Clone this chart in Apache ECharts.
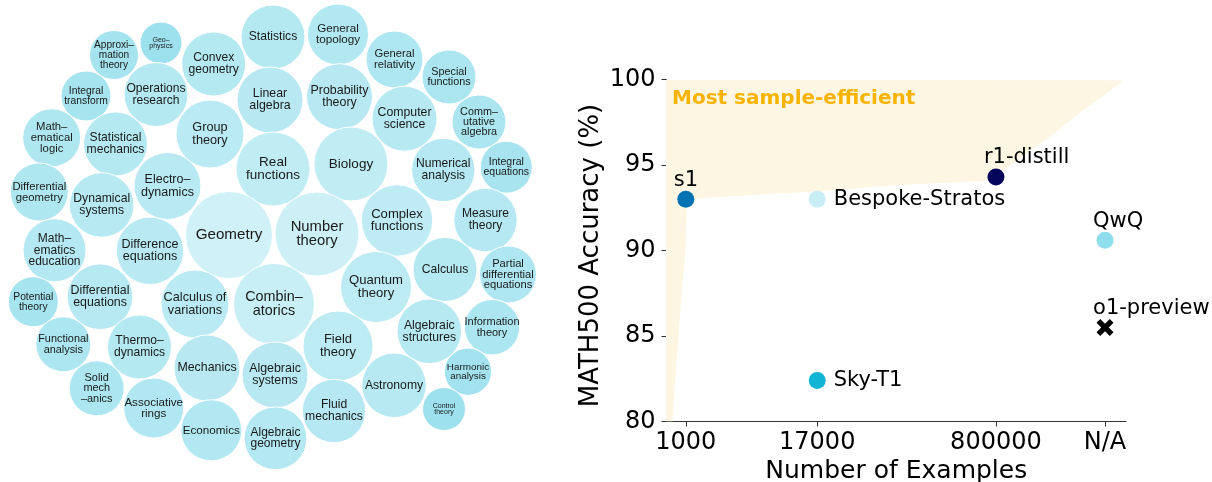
<!DOCTYPE html>
<html><head><meta charset="utf-8">
<script src="https://cdn.jsdelivr.net/npm/echarts@6/dist/echarts.min.js"></script>
<style>html,body{margin:0;padding:0;background:#fff}#c{width:1212px;height:482px}</style>
</head><body><div id="c"></div>
<script>
// ---------- Left: topic bubbles (data units = layout space) ----------
const topicNames = [
 'Approxi–\nmation\ntheory','Geo–\nphysics','Convex\ngeometry','Statistics','General\ntopology',
 'General\nrelativity','Special\nfunctions','Integral\ntransform','Operations\nresearch','Linear\nalgebra',
 'Probability\ntheory','Computer\nscience','Comm–\nutative\nalgebra','Math–\nematical\nlogic','Statistical\nmechanics',
 'Group\ntheory','Real\nfunctions','Biology','Numerical\nanalysis','Integral\nequations',
 'Differential\ngeometry','Dynamical\nsystems','Electro–\ndynamics','Geometry','Number\ntheory',
 'Complex\nfunctions','Measure\ntheory','Math–\nematics\neducation','Difference\nequations','Calculus',
 'Partial\ndifferential\nequations','Quantum\ntheory','Potential\ntheory','Differential\nequations','Calculus of\nvariations',
 'Combin–\natorics','Information\ntheory','Algebraic\nstructures','Functional\nanalysis','Thermo–\ndynamics',
 'Field\ntheory','Mechanics','Algebraic\nsystems','Harmonic\nanalysis','Solid\nmech\n–anics',
 'Associative\nrings','Astronomy','Fluid\nmechanics','Control\ntheory','Economics',
 'Algebraic\ngeometry'
];
const topicX = [114,161,213.7,273,338, 394.5,449,86,156,270, 339.5,404.5,479,51.7,115.5,
 210,273,351,443.3,506.3, 39.3,101.7,167.5,229,317, 397,485.5,54.5,150,445,
 508,376,33.3,100,195, 274,492,429.3,63.3,139.5, 338,207,275,468,96.7,
 153.7,394,334,444,211.3, 275.5];
const topicY = [55,43,64,37,34.5, 59.5,77,96,94.5,100, 96.7,118.7,122,137.8,144,
 134,169,164,170,167.2, 192,205,186,235,234, 220.5,220,250.3,250.8,269.5,
 274.5,287,301.7,296.7,304, 304,327.3,331.3,344.3,347, 346,368,375,371.7,388.3,
 408,385.3,411,409,430.3, 438.3];
const topicR = [24.5,21,32,32,30.5, 28.5,27,25,32,33, 33,32.5,27,29,32,
 34,37,37,31.7,26, 29,32.3,33.5,43.5,42, 35.7,31.7,31.5,33.7,32,
 28.5,35.5,25,32.8,34, 40.5,27.7,32.3,27.5,32, 35,33,33,23.7,27.5,
 30,32.3,31.7,21.5,30.5, 31.4];

// ---------- Right: MATH500 accuracy vs number of examples ----------
const modelNames = ['s1','Bespoke-Stratos','r1-distill','QwQ','o1-preview','Sky-T1'];
const modelExamples = [1000, 17000, 800000, 'N/A', 'N/A', 17000];
const modelAccuracy = [93.0, 93.0, 94.3, 90.6, 85.5, 82.4];
const xTickLabels = ['1000','17000','800000','N/A'];
const yTickLabels = [80, 85, 90, 95, 100];
// boundary of the "most sample-efficient" region (examples, accuracy)
const frontierExamples = [650, 1.24e7, 8.8e6, 5.2e6, 2.56e6, 1.15e6, 8.0e5, 6.0e5, 1.0e5, 1.45e4, 1270, 1020, 1015, 980, 940, 820, 750, 650];
const frontierAccuracy = [100, 99.95, 99.2, 98.2, 96.65, 95.1, 94.3, 94.07, 93.83, 93.44, 93.05, 92.66, 91.98, 89.45, 88.4, 83.6, 80, 80];

// ---------- layout / style ----------
const NA_POSITION = 8.4e6;   // where the "N/A" column sits on the log axis
const toX = v => Math.log10(v === 'N/A' ? NA_POSITION : +v);
const tickPos = xTickLabels.map(t => toX(t === 'N/A' ? 'N/A' : +t));
const FONT_R = 'DejaVu Sans';
const modelStyle = {
  's1': {color:'#0173b2', lab:'top'},
  'Bespoke-Stratos': {color:'#c8eef6', lab:'right'},
  'r1-distill': {color:'#05055a', lab:'top'},
  'QwQ': {color:'#8fdeee', lab:'top'},
  'o1-preview': {color:'#000000', lab:'top', symbol:'path://M0,2.2 L2.2,0 L5,2.8 L7.8,0 L10,2.2 L7.2,5 L10,7.8 L7.8,10 L5,7.2 L2.2,10 L0,7.8 L2.8,5 Z', size:17},
  'Sky-T1': {color:'#12b4d6', lab:'right'}
};
const labTop = {show:true, position:'top', distance:3, align:'left', offset:[-12,3], fontSize:21, color:'#000', fontFamily:FONT_R};
const labRight = {show:true, position:'right', distance:8, fontSize:21, color:'#000', fontFamily:FONT_R};

const topicData = topicNames.map((n,i) => {
  const r = topicR[i];
  const fs = r <= 22 ? 7 : +(3.5 + 0.27*r).toFixed(1);
  return {name:n, value:[topicX[i], topicY[i], r],
    label:{fontSize:fs, lineHeight:fs*0.97}};
});

const modelData = modelNames.map((n,i) => {
  const s = modelStyle[n];
  return {name:n, value:[toX(modelExamples[i]), modelAccuracy[i]],
    symbol: s.symbol || 'circle', symbolSize: s.size || 17,
    itemStyle:{color:s.color, opacity:1},
    label: Object.assign({formatter:n}, s.lab === 'top' ? labTop : labRight)};
});

const chart = echarts.init(document.getElementById('c'), null, {renderer:'canvas'});
chart.setOption({
  animation:false,
  backgroundColor:'#fff',
  title:{text:'Most sample-efficient', left:672, top:89, padding:0,
    textStyle:{fontFamily:FONT_R, fontWeight:'bold', fontSize:20, color:'#f6b400'}},
  visualMap:{show:false, type:'continuous', seriesIndex:0, dimension:2, min:21, max:44,
    inRange:{color:['#9de1ee','#d0f1f7']}},
  grid:[
    {left:0, top:0, width:560, height:482, outerBoundsMode:'none', containLabel:false},
    {left:666.5, top:79.5, width:459.5, height:342, outerBoundsMode:'none', containLabel:false}
  ],
  xAxis:[
    {gridIndex:0, type:'value', min:0, max:560, show:false},
    {gridIndex:1, type:'value', min:Math.log10(660), max:Math.log10(1.32e7),
     name:'Number of Examples', nameLocation:'middle', nameGap:33,
     nameTextStyle:{fontFamily:FONT_R, fontSize:25, color:'#000'},
     axisLine:{lineStyle:{color:'#333', width:1}},
     axisTick:{show:true, length:5, customValues:tickPos, lineStyle:{color:'#333'}},
     axisLabel:{customValues:tickPos, margin:9, fontFamily:FONT_R, fontSize:24, color:'#000',
       formatter:v => { const i = tickPos.findIndex(p => Math.abs(p - v) < 1e-6); return i >= 0 ? xTickLabels[i] : ''; }},
     splitLine:{show:false}}
  ],
  yAxis:[
    {gridIndex:0, type:'value', min:0, max:482, inverse:true, show:false},
    {gridIndex:1, type:'value', min:yTickLabels[0], max:yTickLabels[yTickLabels.length-1], interval:5,
     name:'MATH500 Accuracy (%)', nameLocation:'middle', nameGap:62,
     nameTextStyle:{fontFamily:FONT_R, fontSize:26, color:'#000', padding:[0,10,0,0]},
     axisLine:{show:true, lineStyle:{color:'#333', width:1}},
     axisTick:{show:true, length:5, lineStyle:{color:'#333'}},
     axisLabel:{margin:11, fontFamily:FONT_R, fontSize:24, color:'#000'},
     splitLine:{show:false}}
  ],
  series:[
    {type:'scatter', xAxisIndex:0, yAxisIndex:0, data:topicData,
     symbolSize:v => v[2]*2, clip:false,
     itemStyle:{borderColor:'#ffffff', borderWidth:1, opacity:1},
     label:{show:true, position:'inside', formatter:p => p.name, color:'#1a1a1a',
       fontFamily:'Liberation Sans, Arial, sans-serif'},
     emphasis:{disabled:true}, z:2},
    {type:'custom', xAxisIndex:1, yAxisIndex:1, data:[[3, 90]], silent:true, clip:true, z:1,
     renderItem:(params, api) => {
       const pts = frontierExamples.map((n,i) => api.coord([Math.log10(n), frontierAccuracy[i]]));
       return {type:'polygon', shape:{points:pts}, style:{fill:'#fdf6e3', stroke:null}};
     }},
    {type:'scatter', xAxisIndex:1, yAxisIndex:1, data:modelData, clip:false, z:5,
     itemStyle:{opacity:1}, emphasis:{disabled:true}}
  ]
});
</script></body></html>
